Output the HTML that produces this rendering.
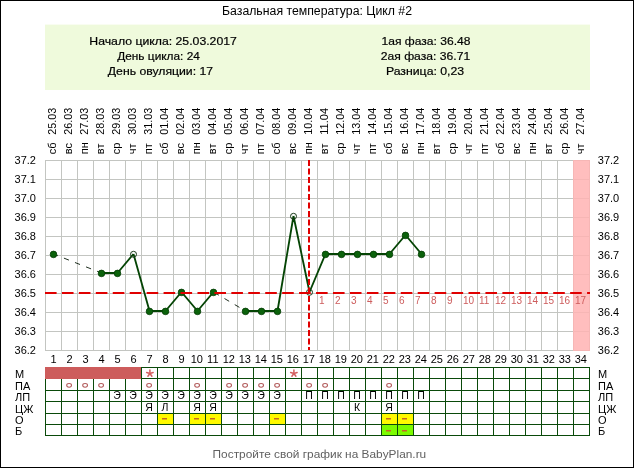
<!DOCTYPE html><html><head><meta charset="utf-8"><title>Базальная температура</title>
<style>html,body{margin:0;padding:0;background:#fff;}svg{display:block;}text{font-family:'Liberation Sans', Arial, sans-serif;} .b{stroke:#000;stroke-width:0.18px;}</style></head><body>
<svg width="634" height="468" viewBox="0 0 634 468">
<rect x="0" y="0" width="634" height="468" fill="#fff"/>
<text x="222" y="15" font-size="12" fill="#000" textLength="190" lengthAdjust="spacingAndGlyphs">Базальная температура: Цикл #2</text>
<rect x="45" y="24.6" width="545" height="65.4" fill="#effadc"/>
<text x="89.3" y="44.8" font-size="10.7" fill="#000" class="b" textLength="147.6" lengthAdjust="spacingAndGlyphs">Начало цикла: 25.03.2017</text>
<text x="117.2" y="59.9" font-size="10.7" fill="#000" class="b" textLength="82.7" lengthAdjust="spacingAndGlyphs">День цикла: 24</text>
<text x="107.8" y="74.8" font-size="10.7" fill="#000" class="b" textLength="105.3" lengthAdjust="spacingAndGlyphs">День овуляции: 17</text>
<text x="381.5" y="44.8" font-size="10.7" fill="#000" class="b" textLength="88.9" lengthAdjust="spacingAndGlyphs">1ая фаза: 36.48</text>
<text x="380.7" y="59.9" font-size="10.7" fill="#000" class="b" textLength="89.5" lengthAdjust="spacingAndGlyphs">2ая фаза: 36.71</text>
<text x="385.9" y="74.8" font-size="10.7" fill="#000" class="b" textLength="78.3" lengthAdjust="spacingAndGlyphs">Разница: 0,23</text>
<text transform="translate(56.3,154.2) rotate(-90)" font-size="11" fill="#000">сб</text>
<text transform="translate(56.3,134.8) rotate(-90)" font-size="10.4" fill="#000" textLength="27" lengthAdjust="spacingAndGlyphs">25.03</text>
<text transform="translate(72.3,154.2) rotate(-90)" font-size="11" fill="#000">вс</text>
<text transform="translate(72.3,134.8) rotate(-90)" font-size="10.4" fill="#000" textLength="27" lengthAdjust="spacingAndGlyphs">26.03</text>
<text transform="translate(88.3,154.2) rotate(-90)" font-size="11" fill="#000">пн</text>
<text transform="translate(88.3,134.8) rotate(-90)" font-size="10.4" fill="#000" textLength="27" lengthAdjust="spacingAndGlyphs">27.03</text>
<text transform="translate(104.3,154.2) rotate(-90)" font-size="11" fill="#000">вт</text>
<text transform="translate(104.3,134.8) rotate(-90)" font-size="10.4" fill="#000" textLength="27" lengthAdjust="spacingAndGlyphs">28.03</text>
<text transform="translate(120.3,154.2) rotate(-90)" font-size="11" fill="#000">ср</text>
<text transform="translate(120.3,134.8) rotate(-90)" font-size="10.4" fill="#000" textLength="27" lengthAdjust="spacingAndGlyphs">29.03</text>
<text transform="translate(136.3,154.2) rotate(-90)" font-size="11" fill="#000">чт</text>
<text transform="translate(136.3,134.8) rotate(-90)" font-size="10.4" fill="#000" textLength="27" lengthAdjust="spacingAndGlyphs">30.03</text>
<text transform="translate(152.3,154.2) rotate(-90)" font-size="11" fill="#000">пт</text>
<text transform="translate(152.3,134.8) rotate(-90)" font-size="10.4" fill="#000" textLength="27" lengthAdjust="spacingAndGlyphs">31.03</text>
<text transform="translate(168.3,154.2) rotate(-90)" font-size="11" fill="#000">сб</text>
<text transform="translate(168.3,134.8) rotate(-90)" font-size="10.4" fill="#000" textLength="27" lengthAdjust="spacingAndGlyphs">01.04</text>
<text transform="translate(184.3,154.2) rotate(-90)" font-size="11" fill="#000">вс</text>
<text transform="translate(184.3,134.8) rotate(-90)" font-size="10.4" fill="#000" textLength="27" lengthAdjust="spacingAndGlyphs">02.04</text>
<text transform="translate(200.3,154.2) rotate(-90)" font-size="11" fill="#000">пн</text>
<text transform="translate(200.3,134.8) rotate(-90)" font-size="10.4" fill="#000" textLength="27" lengthAdjust="spacingAndGlyphs">03.04</text>
<text transform="translate(216.3,154.2) rotate(-90)" font-size="11" fill="#000">вт</text>
<text transform="translate(216.3,134.8) rotate(-90)" font-size="10.4" fill="#000" textLength="27" lengthAdjust="spacingAndGlyphs">04.04</text>
<text transform="translate(232.3,154.2) rotate(-90)" font-size="11" fill="#000">ср</text>
<text transform="translate(232.3,134.8) rotate(-90)" font-size="10.4" fill="#000" textLength="27" lengthAdjust="spacingAndGlyphs">05.04</text>
<text transform="translate(248.3,154.2) rotate(-90)" font-size="11" fill="#000">чт</text>
<text transform="translate(248.3,134.8) rotate(-90)" font-size="10.4" fill="#000" textLength="27" lengthAdjust="spacingAndGlyphs">06.04</text>
<text transform="translate(264.3,154.2) rotate(-90)" font-size="11" fill="#000">пт</text>
<text transform="translate(264.3,134.8) rotate(-90)" font-size="10.4" fill="#000" textLength="27" lengthAdjust="spacingAndGlyphs">07.04</text>
<text transform="translate(280.3,154.2) rotate(-90)" font-size="11" fill="#000">сб</text>
<text transform="translate(280.3,134.8) rotate(-90)" font-size="10.4" fill="#000" textLength="27" lengthAdjust="spacingAndGlyphs">08.04</text>
<text transform="translate(296.3,154.2) rotate(-90)" font-size="11" fill="#000">вс</text>
<text transform="translate(296.3,134.8) rotate(-90)" font-size="10.4" fill="#000" textLength="27" lengthAdjust="spacingAndGlyphs">09.04</text>
<text transform="translate(312.3,154.2) rotate(-90)" font-size="11" fill="#000">пн</text>
<text transform="translate(312.3,134.8) rotate(-90)" font-size="10.4" fill="#000" textLength="27" lengthAdjust="spacingAndGlyphs">10.04</text>
<text transform="translate(328.3,154.2) rotate(-90)" font-size="11" fill="#000">вт</text>
<text transform="translate(328.3,134.8) rotate(-90)" font-size="10.4" fill="#000" textLength="27" lengthAdjust="spacingAndGlyphs">11.04</text>
<text transform="translate(344.3,154.2) rotate(-90)" font-size="11" fill="#000">ср</text>
<text transform="translate(344.3,134.8) rotate(-90)" font-size="10.4" fill="#000" textLength="27" lengthAdjust="spacingAndGlyphs">12.04</text>
<text transform="translate(360.3,154.2) rotate(-90)" font-size="11" fill="#000">чт</text>
<text transform="translate(360.3,134.8) rotate(-90)" font-size="10.4" fill="#000" textLength="27" lengthAdjust="spacingAndGlyphs">13.04</text>
<text transform="translate(376.3,154.2) rotate(-90)" font-size="11" fill="#000">пт</text>
<text transform="translate(376.3,134.8) rotate(-90)" font-size="10.4" fill="#000" textLength="27" lengthAdjust="spacingAndGlyphs">14.04</text>
<text transform="translate(392.3,154.2) rotate(-90)" font-size="11" fill="#000">сб</text>
<text transform="translate(392.3,134.8) rotate(-90)" font-size="10.4" fill="#000" textLength="27" lengthAdjust="spacingAndGlyphs">15.04</text>
<text transform="translate(408.3,154.2) rotate(-90)" font-size="11" fill="#000">вс</text>
<text transform="translate(408.3,134.8) rotate(-90)" font-size="10.4" fill="#000" textLength="27" lengthAdjust="spacingAndGlyphs">16.04</text>
<text transform="translate(424.3,154.2) rotate(-90)" font-size="11" fill="#000">пн</text>
<text transform="translate(424.3,134.8) rotate(-90)" font-size="10.4" fill="#000" textLength="27" lengthAdjust="spacingAndGlyphs">17.04</text>
<text transform="translate(440.3,154.2) rotate(-90)" font-size="11" fill="#000">вт</text>
<text transform="translate(440.3,134.8) rotate(-90)" font-size="10.4" fill="#000" textLength="27" lengthAdjust="spacingAndGlyphs">18.04</text>
<text transform="translate(456.3,154.2) rotate(-90)" font-size="11" fill="#000">ср</text>
<text transform="translate(456.3,134.8) rotate(-90)" font-size="10.4" fill="#000" textLength="27" lengthAdjust="spacingAndGlyphs">19.04</text>
<text transform="translate(472.3,154.2) rotate(-90)" font-size="11" fill="#000">чт</text>
<text transform="translate(472.3,134.8) rotate(-90)" font-size="10.4" fill="#000" textLength="27" lengthAdjust="spacingAndGlyphs">20.04</text>
<text transform="translate(488.3,154.2) rotate(-90)" font-size="11" fill="#000">пт</text>
<text transform="translate(488.3,134.8) rotate(-90)" font-size="10.4" fill="#000" textLength="27" lengthAdjust="spacingAndGlyphs">21.04</text>
<text transform="translate(504.3,154.2) rotate(-90)" font-size="11" fill="#000">сб</text>
<text transform="translate(504.3,134.8) rotate(-90)" font-size="10.4" fill="#000" textLength="27" lengthAdjust="spacingAndGlyphs">22.04</text>
<text transform="translate(520.3,154.2) rotate(-90)" font-size="11" fill="#000">вс</text>
<text transform="translate(520.3,134.8) rotate(-90)" font-size="10.4" fill="#000" textLength="27" lengthAdjust="spacingAndGlyphs">23.04</text>
<text transform="translate(536.3,154.2) rotate(-90)" font-size="11" fill="#000">пн</text>
<text transform="translate(536.3,134.8) rotate(-90)" font-size="10.4" fill="#000" textLength="27" lengthAdjust="spacingAndGlyphs">24.04</text>
<text transform="translate(552.3,154.2) rotate(-90)" font-size="11" fill="#000">вт</text>
<text transform="translate(552.3,134.8) rotate(-90)" font-size="10.4" fill="#000" textLength="27" lengthAdjust="spacingAndGlyphs">25.04</text>
<text transform="translate(568.3,154.2) rotate(-90)" font-size="11" fill="#000">ср</text>
<text transform="translate(568.3,134.8) rotate(-90)" font-size="10.4" fill="#000" textLength="27" lengthAdjust="spacingAndGlyphs">26.04</text>
<text transform="translate(584.3,154.2) rotate(-90)" font-size="11" fill="#000">чт</text>
<text transform="translate(584.3,134.8) rotate(-90)" font-size="10.4" fill="#000" textLength="27" lengthAdjust="spacingAndGlyphs">27.04</text>
<path d="M45.5 160V351M61.5 160V351M77.5 160V351M93.5 160V351M109.5 160V351M125.5 160V351M141.5 160V351M157.5 160V351M173.5 160V351M189.5 160V351M205.5 160V351M221.5 160V351M237.5 160V351M253.5 160V351M269.5 160V351M285.5 160V351M301.5 160V351M317.5 160V351M333.5 160V351M349.5 160V351M365.5 160V351M381.5 160V351M397.5 160V351M413.5 160V351M429.5 160V351M445.5 160V351M461.5 160V351M477.5 160V351M493.5 160V351M509.5 160V351M525.5 160V351M541.5 160V351M557.5 160V351M573.5 160V351M589.5 160V351M45 160.5H590M45 179.5H590M45 198.5H590M45 217.5H590M45 236.5H590M45 255.5H590M45 274.5H590M45 293.5H590M45 312.5H590M45 331.5H590M45 350.5H590" stroke="#c3c5c1" stroke-width="1" fill="none"/>
<rect x="573" y="160" width="17" height="191" fill="#ffb3b3" fill-opacity="0.85"/>
<text x="36" y="163.7" font-size="11" text-anchor="end" fill="#000">37.2</text>
<text x="597.8" y="163.7" font-size="11" fill="#000">37.2</text>
<text x="36" y="182.7" font-size="11" text-anchor="end" fill="#000">37.1</text>
<text x="597.8" y="182.7" font-size="11" fill="#000">37.1</text>
<text x="36" y="201.7" font-size="11" text-anchor="end" fill="#000">37.0</text>
<text x="597.8" y="201.7" font-size="11" fill="#000">37.0</text>
<text x="36" y="220.7" font-size="11" text-anchor="end" fill="#000">36.9</text>
<text x="597.8" y="220.7" font-size="11" fill="#000">36.9</text>
<text x="36" y="239.7" font-size="11" text-anchor="end" fill="#000">36.8</text>
<text x="597.8" y="239.7" font-size="11" fill="#000">36.8</text>
<text x="36" y="258.7" font-size="11" text-anchor="end" fill="#000">36.7</text>
<text x="597.8" y="258.7" font-size="11" fill="#000">36.7</text>
<text x="36" y="277.7" font-size="11" text-anchor="end" fill="#000">36.6</text>
<text x="597.8" y="277.7" font-size="11" fill="#000">36.6</text>
<text x="36" y="296.7" font-size="11" text-anchor="end" fill="#000">36.5</text>
<text x="597.8" y="296.7" font-size="11" fill="#000">36.5</text>
<text x="36" y="315.7" font-size="11" text-anchor="end" fill="#000">36.4</text>
<text x="597.8" y="315.7" font-size="11" fill="#000">36.4</text>
<text x="36" y="334.7" font-size="11" text-anchor="end" fill="#000">36.3</text>
<text x="597.8" y="334.7" font-size="11" fill="#000">36.3</text>
<text x="36" y="353.7" font-size="11" text-anchor="end" fill="#000">36.2</text>
<text x="597.8" y="353.7" font-size="11" fill="#000">36.2</text>
<path d="M53.5 254.0L101.5 273.0" stroke="#1e2e1e" stroke-width="1" stroke-dasharray="5.4 6.5" stroke-dashoffset="0.7" fill="none"/>
<path d="M213.5 292.0L245.5 311.0" stroke="#1e2e1e" stroke-width="1" stroke-dasharray="5.4 6.5" stroke-dashoffset="-0.9" fill="none"/>
<path d="M101.5 273.0L117.5 273.0M117.5 273.0L133.5 254.0M133.5 254.0L149.5 311.0M149.5 311.0L165.5 311.0M165.5 311.0L181.5 292.0M181.5 292.0L197.5 311.0M197.5 311.0L213.5 292.0M245.5 311.0L261.5 311.0M261.5 311.0L277.5 311.0M277.5 311.0L293.5 216.0M293.5 216.0L309.5 292.0M309.5 292.0L325.5 254.0M325.5 254.0L341.5 254.0M341.5 254.0L357.5 254.0M357.5 254.0L373.5 254.0M373.5 254.0L389.5 254.0M389.5 254.0L405.5 235.0M405.5 235.0L421.5 254.0" stroke="#044404" stroke-width="1.85" fill="none" stroke-linejoin="round"/>
<circle cx="53.5" cy="254.4" r="3.3" fill="#0b620b" stroke="#053c05" stroke-width="0.8"/>
<circle cx="101.5" cy="273.4" r="3.3" fill="#0b620b" stroke="#053c05" stroke-width="0.8"/>
<circle cx="117.5" cy="273.4" r="3.3" fill="#0b620b" stroke="#053c05" stroke-width="0.8"/>
<circle cx="133.5" cy="254.3" r="3" fill="none" stroke="#1a3a1a" stroke-width="1"/>
<circle cx="149.5" cy="311.4" r="3.3" fill="#0b620b" stroke="#053c05" stroke-width="0.8"/>
<circle cx="165.5" cy="311.4" r="3.3" fill="#0b620b" stroke="#053c05" stroke-width="0.8"/>
<circle cx="181.5" cy="292.4" r="3.3" fill="#0b620b" stroke="#053c05" stroke-width="0.8"/>
<circle cx="197.5" cy="311.4" r="3.3" fill="#0b620b" stroke="#053c05" stroke-width="0.8"/>
<circle cx="213.5" cy="292.4" r="3.3" fill="#0b620b" stroke="#053c05" stroke-width="0.8"/>
<circle cx="245.5" cy="311.4" r="3.3" fill="#0b620b" stroke="#053c05" stroke-width="0.8"/>
<circle cx="261.5" cy="311.4" r="3.3" fill="#0b620b" stroke="#053c05" stroke-width="0.8"/>
<circle cx="277.5" cy="311.4" r="3.3" fill="#0b620b" stroke="#053c05" stroke-width="0.8"/>
<circle cx="293.5" cy="216.3" r="3" fill="none" stroke="#1a3a1a" stroke-width="1"/>
<circle cx="309.5" cy="292.3" r="3" fill="none" stroke="#1a3a1a" stroke-width="1"/>
<circle cx="325.5" cy="254.4" r="3.3" fill="#0b620b" stroke="#053c05" stroke-width="0.8"/>
<circle cx="341.5" cy="254.4" r="3.3" fill="#0b620b" stroke="#053c05" stroke-width="0.8"/>
<circle cx="357.5" cy="254.4" r="3.3" fill="#0b620b" stroke="#053c05" stroke-width="0.8"/>
<circle cx="373.5" cy="254.4" r="3.3" fill="#0b620b" stroke="#053c05" stroke-width="0.8"/>
<circle cx="389.5" cy="254.4" r="3.3" fill="#0b620b" stroke="#053c05" stroke-width="0.8"/>
<circle cx="405.5" cy="235.4" r="3.3" fill="#0b620b" stroke="#053c05" stroke-width="0.8"/>
<circle cx="421.5" cy="254.4" r="3.3" fill="#0b620b" stroke="#053c05" stroke-width="0.8"/>
<path d="M45 293H590" stroke="#e00000" stroke-width="2" stroke-dasharray="11.6 5.34" fill="none"/>
<path d="M309 160V350" stroke="#e00000" stroke-width="2" stroke-dasharray="6 2.5" fill="none"/>
<text x="319" y="304" font-size="10" fill="#cd5c5c">1</text>
<text x="335" y="304" font-size="10" fill="#cd5c5c">2</text>
<text x="351" y="304" font-size="10" fill="#cd5c5c">3</text>
<text x="367" y="304" font-size="10" fill="#cd5c5c">4</text>
<text x="383" y="304" font-size="10" fill="#cd5c5c">5</text>
<text x="399" y="304" font-size="10" fill="#cd5c5c">6</text>
<text x="415" y="304" font-size="10" fill="#cd5c5c">7</text>
<text x="431" y="304" font-size="10" fill="#cd5c5c">8</text>
<text x="447" y="304" font-size="10" fill="#cd5c5c">9</text>
<text x="463" y="304" font-size="10" fill="#cd5c5c">10</text>
<text x="479" y="304" font-size="10" fill="#cd5c5c">11</text>
<text x="495" y="304" font-size="10" fill="#cd5c5c">12</text>
<text x="511" y="304" font-size="10" fill="#cd5c5c">13</text>
<text x="527" y="304" font-size="10" fill="#cd5c5c">14</text>
<text x="543" y="304" font-size="10" fill="#cd5c5c">15</text>
<text x="559" y="304" font-size="10" fill="#cd5c5c">16</text>
<text x="575" y="304" font-size="10" fill="#cd5c5c">17</text>
<text x="53.5" y="363" font-size="11" text-anchor="middle" fill="#000">1</text>
<text x="69.5" y="363" font-size="11" text-anchor="middle" fill="#000">2</text>
<text x="85.5" y="363" font-size="11" text-anchor="middle" fill="#000">3</text>
<text x="101.5" y="363" font-size="11" text-anchor="middle" fill="#000">4</text>
<text x="117.5" y="363" font-size="11" text-anchor="middle" fill="#000">5</text>
<text x="133.5" y="363" font-size="11" text-anchor="middle" fill="#000">6</text>
<text x="149.5" y="363" font-size="11" text-anchor="middle" fill="#000">7</text>
<text x="165.5" y="363" font-size="11" text-anchor="middle" fill="#000">8</text>
<text x="181.5" y="363" font-size="11" text-anchor="middle" fill="#000">9</text>
<text x="196.8" y="363" font-size="11" text-anchor="middle" fill="#000">10</text>
<text x="212.8" y="363" font-size="11" text-anchor="middle" fill="#000">11</text>
<text x="228.8" y="363" font-size="11" text-anchor="middle" fill="#000">12</text>
<text x="244.8" y="363" font-size="11" text-anchor="middle" fill="#000">13</text>
<text x="260.8" y="363" font-size="11" text-anchor="middle" fill="#000">14</text>
<text x="276.8" y="363" font-size="11" text-anchor="middle" fill="#000">15</text>
<text x="292.8" y="363" font-size="11" text-anchor="middle" fill="#000">16</text>
<text x="308.8" y="363" font-size="11" text-anchor="middle" fill="#000">17</text>
<text x="324.8" y="363" font-size="11" text-anchor="middle" fill="#000">18</text>
<text x="340.8" y="363" font-size="11" text-anchor="middle" fill="#000">19</text>
<text x="356.8" y="363" font-size="11" text-anchor="middle" fill="#000">20</text>
<text x="372.8" y="363" font-size="11" text-anchor="middle" fill="#000">21</text>
<text x="388.8" y="363" font-size="11" text-anchor="middle" fill="#000">22</text>
<text x="404.8" y="363" font-size="11" text-anchor="middle" fill="#000">23</text>
<text x="420.8" y="363" font-size="11" text-anchor="middle" fill="#000">24</text>
<text x="436.8" y="363" font-size="11" text-anchor="middle" fill="#000">25</text>
<text x="452.8" y="363" font-size="11" text-anchor="middle" fill="#000">26</text>
<text x="468.8" y="363" font-size="11" text-anchor="middle" fill="#000">27</text>
<text x="484.8" y="363" font-size="11" text-anchor="middle" fill="#000">28</text>
<text x="500.8" y="363" font-size="11" text-anchor="middle" fill="#000">29</text>
<text x="516.8" y="363" font-size="11" text-anchor="middle" fill="#000">30</text>
<text x="532.8" y="363" font-size="11" text-anchor="middle" fill="#000">31</text>
<text x="548.8" y="363" font-size="11" text-anchor="middle" fill="#000">32</text>
<text x="564.8" y="363" font-size="11" text-anchor="middle" fill="#000">33</text>
<text x="580.8" y="363" font-size="11" text-anchor="middle" fill="#000">34</text>
<rect x="45" y="367" width="96" height="12" fill="#cd5c5c"/>
<rect x="157" y="413" width="16" height="11" fill="#fffa00"/>
<rect x="189" y="413" width="16" height="11" fill="#fffa00"/>
<rect x="205" y="413" width="16" height="11" fill="#fffa00"/>
<rect x="269" y="413" width="16" height="11" fill="#fffa00"/>
<rect x="381" y="413" width="16" height="11" fill="#fffa00"/>
<rect x="397" y="413" width="16" height="11" fill="#fffa00"/>
<rect x="381" y="424" width="16" height="11" fill="#7cfc00"/>
<rect x="397" y="424" width="16" height="11" fill="#7cfc00"/>
<path d="M45.5 378V436M61.5 378V436M77.5 378V436M93.5 378V436M109.5 378V436M125.5 378V436M141.5 367V436M157.5 367V436M173.5 367V436M189.5 367V436M205.5 367V436M221.5 367V436M237.5 367V436M253.5 367V436M269.5 367V436M285.5 367V436M301.5 367V436M317.5 367V436M333.5 367V436M349.5 367V436M365.5 367V436M381.5 367V436M397.5 367V436M413.5 367V436M429.5 367V436M445.5 367V436M461.5 367V436M477.5 367V436M493.5 367V436M509.5 367V436M525.5 367V436M541.5 367V436M557.5 367V436M573.5 367V436M589.5 367V436M141 367.5H590M45 378.5H590M45 390.5H590M45 401.5H590M45 413.5H590M45 424.5H590M45 435.5H590" stroke="#0a4a0a" stroke-width="1" fill="none"/>
<rect x="45" y="367" width="96" height="12" fill="#cd5c5c"/>
<path d="M149.90 373.50L149.90 370.10M149.90 373.50L153.13 372.45M149.90 373.50L151.90 376.25M149.90 373.50L147.90 376.25M149.90 373.50L146.67 372.45" stroke="#d45f5f" stroke-width="1.5" stroke-linecap="round" fill="none"/>
<path d="M293.90 373.50L293.90 370.10M293.90 373.50L297.13 372.45M293.90 373.50L295.90 376.25M293.90 373.50L291.90 376.25M293.90 373.50L290.67 372.45" stroke="#d45f5f" stroke-width="1.5" stroke-linecap="round" fill="none"/>
<ellipse cx="69.1" cy="385.3" rx="2.4" ry="1.9" fill="none" stroke="#b25a5a" stroke-width="1.05"/>
<ellipse cx="85.1" cy="385.3" rx="2.4" ry="1.9" fill="none" stroke="#b25a5a" stroke-width="1.05"/>
<ellipse cx="101.1" cy="385.3" rx="2.4" ry="1.9" fill="none" stroke="#b25a5a" stroke-width="1.05"/>
<ellipse cx="149.1" cy="385.3" rx="2.4" ry="1.9" fill="none" stroke="#b25a5a" stroke-width="1.05"/>
<ellipse cx="197.1" cy="385.3" rx="2.4" ry="1.9" fill="none" stroke="#b25a5a" stroke-width="1.05"/>
<ellipse cx="229.1" cy="385.3" rx="2.4" ry="1.9" fill="none" stroke="#b25a5a" stroke-width="1.05"/>
<ellipse cx="245.1" cy="385.3" rx="2.4" ry="1.9" fill="none" stroke="#b25a5a" stroke-width="1.05"/>
<ellipse cx="261.1" cy="385.3" rx="2.4" ry="1.9" fill="none" stroke="#b25a5a" stroke-width="1.05"/>
<ellipse cx="277.1" cy="385.3" rx="2.4" ry="1.9" fill="none" stroke="#b25a5a" stroke-width="1.05"/>
<ellipse cx="309.1" cy="385.3" rx="2.4" ry="1.9" fill="none" stroke="#b25a5a" stroke-width="1.05"/>
<ellipse cx="325.1" cy="385.3" rx="2.4" ry="1.9" fill="none" stroke="#b25a5a" stroke-width="1.05"/>
<ellipse cx="389.1" cy="385.3" rx="2.4" ry="1.9" fill="none" stroke="#b25a5a" stroke-width="1.05"/>
<text x="117.0" y="399" font-size="10.5" text-anchor="middle" fill="#000">Э</text>
<text x="133.0" y="399" font-size="10.5" text-anchor="middle" fill="#000">Э</text>
<text x="149.0" y="399" font-size="10.5" text-anchor="middle" fill="#000">Э</text>
<text x="165.0" y="399" font-size="10.5" text-anchor="middle" fill="#000">Э</text>
<text x="181.0" y="399" font-size="10.5" text-anchor="middle" fill="#000">Э</text>
<text x="197.0" y="399" font-size="10.5" text-anchor="middle" fill="#000">Э</text>
<text x="213.0" y="399" font-size="10.5" text-anchor="middle" fill="#000">Э</text>
<text x="229.0" y="399" font-size="10.5" text-anchor="middle" fill="#000">Э</text>
<text x="245.0" y="399" font-size="10.5" text-anchor="middle" fill="#000">Э</text>
<text x="261.0" y="399" font-size="10.5" text-anchor="middle" fill="#000">Э</text>
<text x="277.0" y="399" font-size="10.5" text-anchor="middle" fill="#000">Э</text>
<text x="309.0" y="399" font-size="10.5" text-anchor="middle" fill="#000">П</text>
<text x="325.0" y="399" font-size="10.5" text-anchor="middle" fill="#000">П</text>
<text x="341.0" y="399" font-size="10.5" text-anchor="middle" fill="#000">П</text>
<text x="357.0" y="399" font-size="10.5" text-anchor="middle" fill="#000">П</text>
<text x="373.0" y="399" font-size="10.5" text-anchor="middle" fill="#000">П</text>
<text x="389.0" y="399" font-size="10.5" text-anchor="middle" fill="#000">П</text>
<text x="405.0" y="399" font-size="10.5" text-anchor="middle" fill="#000">П</text>
<text x="421.0" y="399" font-size="10.5" text-anchor="middle" fill="#000">П</text>
<text x="149.0" y="410.7" font-size="10.5" text-anchor="middle" fill="#000">Я</text>
<text x="165.0" y="410.7" font-size="10.5" text-anchor="middle" fill="#000">Л</text>
<text x="197.0" y="410.7" font-size="10.5" text-anchor="middle" fill="#000">Я</text>
<text x="213.0" y="410.7" font-size="10.5" text-anchor="middle" fill="#000">Я</text>
<text x="357.0" y="410.7" font-size="10.5" text-anchor="middle" fill="#000">К</text>
<text x="389.0" y="410.7" font-size="10.5" text-anchor="middle" fill="#000">Я</text>
<rect x="162.0" y="418" width="5" height="1.5" fill="#c46a22"/>
<rect x="194.0" y="418" width="5" height="1.5" fill="#c46a22"/>
<rect x="210.0" y="418" width="5" height="1.5" fill="#c46a22"/>
<rect x="274.0" y="418" width="5" height="1.5" fill="#c46a22"/>
<rect x="386.0" y="418" width="5" height="1.5" fill="#c46a22"/>
<rect x="402.0" y="418" width="5" height="1.5" fill="#c46a22"/>
<rect x="386.0" y="430" width="5" height="1.5" fill="#c46a22"/>
<rect x="402.0" y="430" width="5" height="1.5" fill="#c46a22"/>
<text x="15" y="378" font-size="11" fill="#000">М</text>
<text x="598" y="378" font-size="11" fill="#000">М</text>
<text x="15" y="390" font-size="11" fill="#000">ПА</text>
<text x="598" y="390" font-size="11" fill="#000">ПА</text>
<text x="15" y="400.5" font-size="11" fill="#000">ЛП</text>
<text x="598" y="400.5" font-size="11" fill="#000">ЛП</text>
<text x="15" y="412.5" font-size="11" fill="#000">ЦЖ</text>
<text x="598" y="412.5" font-size="11" fill="#000">ЦЖ</text>
<text x="15" y="424" font-size="11" fill="#000">О</text>
<text x="598" y="424" font-size="11" fill="#000">О</text>
<text x="15" y="435" font-size="11" fill="#000">Б</text>
<text x="598" y="435" font-size="11" fill="#000">Б</text>
<text x="212.6" y="458" font-size="10.8" fill="#606060" textLength="213.6" lengthAdjust="spacingAndGlyphs">Постройте свой график на BabyPlan.ru</text>
<rect x="0.5" y="0.5" width="633" height="467" fill="none" stroke="#000" stroke-width="1"/>
</svg></body></html>
